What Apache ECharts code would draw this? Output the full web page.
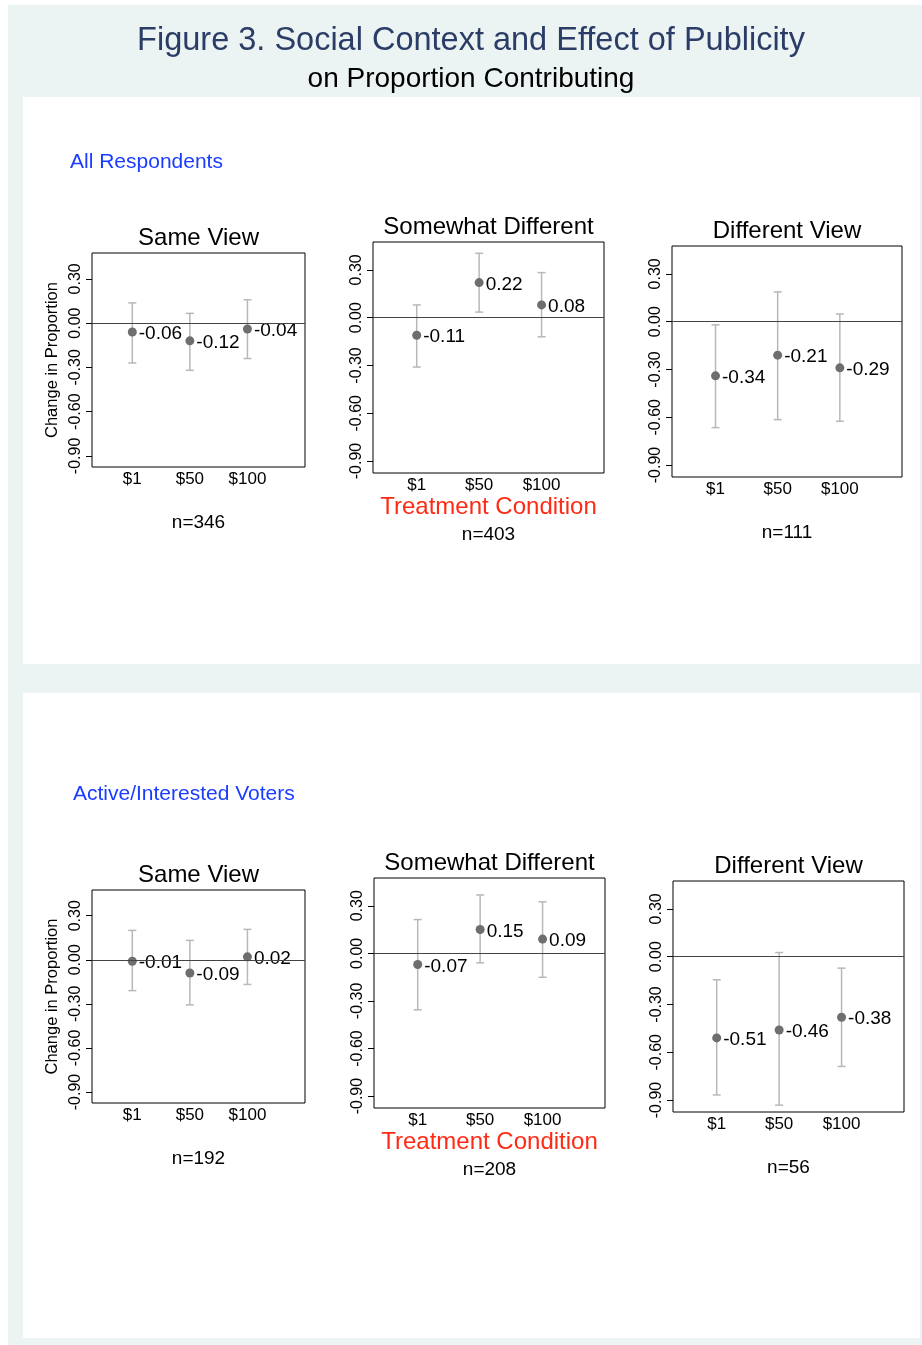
<!DOCTYPE html>
<html>
<head>
<meta charset="utf-8">
<script src="https://cdn.jsdelivr.net/npm/echarts@6/dist/echarts.min.js"></script>
<style>
  html, body { margin: 0; padding: 0; background: #fff; }
  #chart { width: 922px; height: 1345px; }
</style>
</head>
<body>
<div id="chart"></div>
<script>
// treatment conditions and panel names
const categories = ['$1', '$50', '$100']
const panelTitles = ['Same View', 'Somewhat Different', 'Different View']
const yTicks = [-0.9, -0.6, -0.3, 0, 0.3]

// All Respondents: point estimates and confidence bounds
const allMeans = [[-0.06, -0.12, -0.04], [-0.11, 0.22, 0.08], [-0.34, -0.21, -0.29]]
const allLower = [[-0.27, -0.32, -0.24], [-0.31, 0.035, -0.12], [-0.665, -0.615, -0.625]]
const allUpper = [[0.137, 0.066, 0.158], [0.08, 0.404, 0.283], [-0.02, 0.187, 0.048]]
const allN = [346, 403, 111]

// Active/Interested Voters
const activeMeans = [[-0.01, -0.09, 0.02], [-0.07, 0.15, 0.09], [-0.51, -0.46, -0.38]]
const activeLower = [[-0.21, -0.307, -0.168], [-0.356, -0.06, -0.151], [-0.868, -0.932, -0.689]]
const activeUpper = [[0.2, 0.132, 0.207], [0.213, 0.368, 0.325], [-0.145, 0.026, -0.072]]
const activeN = [192, 208, 56]

const font = '"Liberation Sans", Arial, Helvetica, sans-serif'

// plot boxes, [left, top, width, height]
const boxes = [
  [92, 253, 213, 214], [373, 242, 231, 231], [672, 246, 230, 231],
  [92, 890, 213, 213], [374, 878, 231, 230], [673, 881, 231, 231]
]

const groups = [
  { means: allMeans, lower: allLower, upper: allUpper, n: allN },
  { means: activeMeans, lower: activeLower, upper: activeUpper, n: activeN }
]

const grid = [], xAxis = [], yAxis = [], series = [], graphic = []

// page background panels
graphic.push(
  { type: 'rect', z: -10, shape: { x: 8, y: 5, width: 914, height: 1340 }, style: { fill: '#ecf4f3' } },
  { type: 'rect', z: -9, shape: { x: 23, y: 97, width: 897, height: 567 }, style: { fill: '#fff' } },
  { type: 'rect', z: -9, shape: { x: 23, y: 693, width: 897, height: 645 }, style: { fill: '#fff' } }
)

const addText = (text, x, y, size, color, align = 'center') => {
  graphic.push({
    type: 'text', x, y, z: 10,
    style: { text, fontSize: size, fontFamily: font, fill: color, align, verticalAlign: 'middle' }
  })
}

addText('Figure 3. Social Context and Effect of Publicity', 471, 41, 32.5, '#2b3c66')
addText('on Proportion Contributing', 471, 79, 28, '#000')
addText('All Respondents', 70, 162, 21, '#1a3cff', 'left')
addText('Active/Interested Voters', 73, 794, 21, '#1a3cff', 'left')

boxes.forEach((b, k) => {
  const g = groups[Math.floor(k / 3)]
  const p = k % 3
  const [left, top, width, height] = b
  const cx = left + width / 2

  grid.push({ left, top, width, height, show: true, borderColor: '#000', borderWidth: 1 })

  xAxis.push({
    type: 'value', gridIndex: k, min: 0.3, max: 4,
    axisLine: { show: false }, axisTick: { show: false }, splitLine: { show: false },
    axisLabel: {
      customValues: [1, 2, 3], formatter: v => categories[v - 1],
      fontSize: 17, fontFamily: font, color: '#000', margin: 4
    }
  })

  yAxis.push({
    type: 'value', gridIndex: k, min: -0.975, max: 0.475,
    name: p === 0 ? 'Change in Proportion' : '',
    nameLocation: 'middle', nameGap: 31, nameRotate: 90,
    nameTextStyle: { fontSize: 16.5, fontFamily: font, color: '#000' },
    axisLine: { show: false }, splitLine: { show: false },
    axisTick: { show: true, customValues: yTicks, length: 6, lineStyle: { color: '#000' } },
    axisLabel: {
      customValues: yTicks, rotate: 90, formatter: v => v.toFixed(2),
      fontSize: 16, fontFamily: font, color: '#000', margin: 8
    }
  })

  // confidence intervals
  series.push({
    type: 'custom', xAxisIndex: k, yAxisIndex: k, z: 2,
    data: categories.map((c, i) => [i + 1, g.lower[p][i], g.upper[p][i]]),
    encode: { x: 0, y: [1, 2] },
    renderItem: (params, api) => {
      const x = api.value(0)
      const lo = api.coord([x, api.value(1)])
      const hi = api.coord([x, api.value(2)])
      const style = { stroke: '#b8b8b8', lineWidth: 1.5 }
      return {
        type: 'group',
        children: [
          { type: 'line', shape: { x1: lo[0], y1: lo[1], x2: hi[0], y2: hi[1] }, style },
          { type: 'line', shape: { x1: lo[0] - 4, y1: lo[1], x2: lo[0] + 4, y2: lo[1] }, style },
          { type: 'line', shape: { x1: hi[0] - 4, y1: hi[1], x2: hi[0] + 4, y2: hi[1] }, style }
        ]
      }
    }
  })

  // point estimates with value labels, plus the zero line
  series.push({
    type: 'scatter', xAxisIndex: k, yAxisIndex: k, z: 3,
    symbolSize: 9,
    itemStyle: { color: '#6e6e6e', opacity: 1 },
    data: g.means[p].map((m, i) => [i + 1, m]),
    label: {
      show: true, position: 'right', distance: 2, offset: [0, 2],
      formatter: d => d.value[1].toFixed(2),
      fontSize: 19, fontFamily: font, color: '#000'
    },
    markLine: {
      silent: true, symbol: ['none', 'none'], animation: false,
      label: { show: false },
      lineStyle: { color: '#444', width: 1, type: 'solid' },
      data: [{ yAxis: 0 }]
    }
  })

  addText(panelTitles[p], cx, top - 15, 24, '#000')
  const nY = top + height + (p === 1 ? 62 : 56)
  addText('n=' + g.n[p], cx, nY, 19, '#000')
  if (p === 1) addText('Treatment Condition', cx, top + height + 34, 24, '#ff2a14')
})

const chart = echarts.init(document.getElementById('chart'))
chart.setOption({ animation: false, grid, xAxis, yAxis, series, graphic })
</script>
</body>
</html>
